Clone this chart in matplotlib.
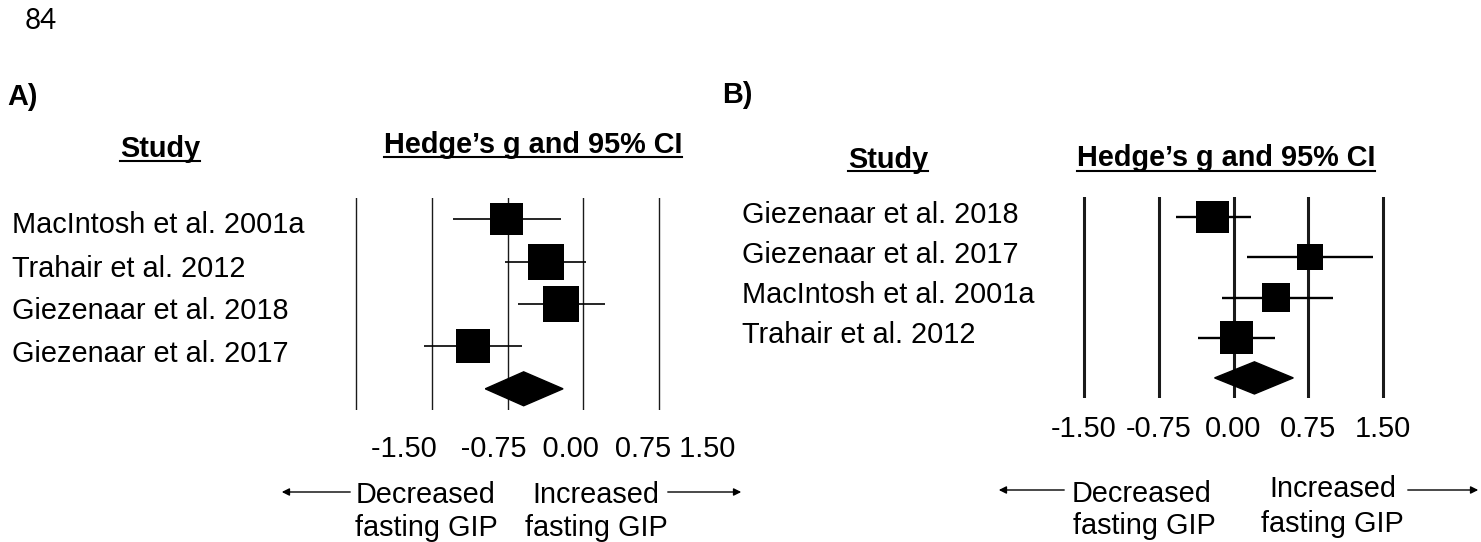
import numpy as np
import matplotlib
matplotlib.use("Agg")
import matplotlib.pyplot as plt
from matplotlib.patches import Polygon, FancyArrowPatch
from matplotlib.lines import Line2D

plt.rcParams["font.family"] = ["Liberation Sans", "DejaVu Sans"]

W, H = 1481, 542
FS = 20.8

# panel A data (Hedge's g, 95% CI, relative weight %)
studies_a = ["MacIntosh et al. 2001a", "Trahair et al. 2012",
             "Giezenaar et al. 2018", "Giezenaar et al. 2017"]
g_a = [-0.01, 0.38, 0.53, -0.34]
lo_a = [-0.54, -0.02, 0.10, -0.83]
hi_a = [0.53, 0.78, 0.97, 0.14]
w_a = [22.1, 27.2, 26.5, 24.2]
pooled_a = [-0.22, 0.16, 0.55]

# panel B data
studies_b = ["Giezenaar et al. 2018", "Giezenaar et al. 2017",
             "MacIntosh et al. 2001a", "Trahair et al. 2012"]
g_b = [-0.21, 0.77, 0.43, 0.03]
lo_b = [-0.58, 0.14, -0.12, -0.36]
hi_b = [0.18, 1.40, 1.00, 0.42]
w_b = [28.9, 19.1, 22.1, 29.8]
pooled_b = [-0.19, 0.21, 0.60]

ticks = [-1.50, -0.75, 0.00, 0.75, 1.50]
tick_labels = ["-1.50", "-0.75", "0.00", "0.75", "1.50"]


def fx(x):
    return x / W


def fy(y):
    return 1 - y / H


def add_forest(fig, rect_px, g, lo, hi, w, pooled, k_px, grid_lw, ci_lw):
    left, top, right, bottom = rect_px
    ax = fig.add_axes([fx(left), fy(bottom), fx(right - left), (bottom - top) / H])
    n = len(g)
    ax.set_xlim(-1.7, 1.7)
    ax.set_ylim(n + 0.5, -0.5)
    for t in ticks:
        ax.axvline(t, color="#1a1a1a", lw=grid_lw, zorder=1)
    y = np.arange(n)
    ax.hlines(y, lo, hi, color="black", lw=ci_lw, zorder=2)
    # square side grows with sqrt of the study weight
    side_pt = k_px * np.sqrt(np.array(w)) * 72 / 100
    ax.scatter(g, y, s=side_pt ** 2, marker="s", color="black",
               linewidths=0, zorder=3)
    d = 0.4
    dia = Polygon([(pooled[0], n), (pooled[1], n - d), (pooled[2], n),
                   (pooled[1], n + d)], closed=True, color="black", zorder=3)
    ax.add_patch(dia)
    for s in ax.spines.values():
        s.set_visible(False)
    ax.set_yticks([])
    ax.tick_params(axis="x", length=0)
    return ax


def underlined(fig, x, y, text, drop=4):
    t = fig.text(fx(x), fy(y), text, ha="center", va="baseline",
                 fontsize=FS, fontweight="bold")
    r = fig.canvas.get_renderer()
    bb = t.get_window_extent(renderer=r)
    fig.add_artist(Line2D([bb.x0 / W, bb.x1 / W], [fy(y + drop)] * 2,
                          color="black", lw=1.5))
    return t


def arrow(fig, x0, x1, y):
    fig.add_artist(FancyArrowPatch(
        (fx(x0), fy(y)), (fx(x1), fy(y)), transform=fig.transFigure,
        arrowstyle="-|>", mutation_scale=11, lw=1.0, color="black"))


fig = plt.figure(figsize=(W / 100, H / 100), dpi=100)
fig.canvas.draw()

fig.text(fx(41), fy(29), "84", ha="center", va="baseline", fontsize=20,
         family=["Lato", "DejaVu Sans"])

# ---- panel A ----
fig.text(fx(7), fy(105), "A)", ha="left", va="baseline", fontsize=FS,
         fontweight="bold")
underlined(fig, 160, 157, "Study")
underlined(fig, 533, 153, "Hedge\u2019s g and 95% CI")

ax_a = add_forest(fig, (356 - 0.2 * 101, 198, 659 + 0.2 * 101, 410),
                  g_a, lo_a, hi_a, w_a, pooled_a, 6.9, 1.0, 1.2)
ax_a.set_xticks([])
row_px_a = [218, 262, 304, 347]
for name, yp in zip(studies_a, row_px_a):
    fig.text(fx(12), fy(yp + 15), name, ha="left", va="baseline", fontsize=FS)

# the tick labels in A are one typed line, not aligned to the lines
fig.text(fx(553), fy(457), "-1.50   -0.75  0.00  0.75 1.50", ha="center",
         va="baseline", fontsize=FS)

fig.text(fx(426), fy(503), "Decreased", ha="center", va="baseline", fontsize=FS)
fig.text(fx(426), fy(536), "fasting GIP", ha="center", va="baseline", fontsize=FS)
fig.text(fx(596), fy(503), "Increased", ha="center", va="baseline", fontsize=FS)
fig.text(fx(596), fy(536), "fasting GIP", ha="center", va="baseline", fontsize=FS)
arrow(fig, 353, 279, 492)
arrow(fig, 665, 744, 492)

# ---- panel B ----
fig.text(fx(722), fy(103), "B)", ha="left", va="baseline", fontsize=FS,
         fontweight="bold")
underlined(fig, 888, 168, "Study", drop=3)
underlined(fig, 1226, 166, "Hedge\u2019s g and 95% CI", drop=5)

ax_b = add_forest(fig, (1084 - 0.2 * 99.67, 197, 1383 + 0.2 * 99.67, 398),
                  g_b, lo_b, hi_b, w_b, pooled_b, 6.0, 2.2, 1.7)
ax_b.set_xticks(ticks)
ax_b.set_xticklabels(tick_labels, fontsize=FS)
ax_b.tick_params(axis="x", pad=12)
row_px_b = [217, 257, 297, 337]
for name, yp in zip(studies_b, row_px_b):
    fig.text(fx(742), fy(yp + 6), name, ha="left", va="baseline", fontsize=FS)

fig.text(fx(1142), fy(502), "Decreased", ha="center", va="baseline", fontsize=FS)
fig.text(fx(1144), fy(534), "fasting GIP", ha="center", va="baseline", fontsize=FS)
fig.text(fx(1333), fy(497), "Increased", ha="center", va="baseline", fontsize=FS)
fig.text(fx(1332), fy(532), "fasting GIP", ha="center", va="baseline", fontsize=FS)
arrow(fig, 1067, 996, 490)
arrow(fig, 1405, 1481, 490)

fig.savefig("out.png", dpi=100)
